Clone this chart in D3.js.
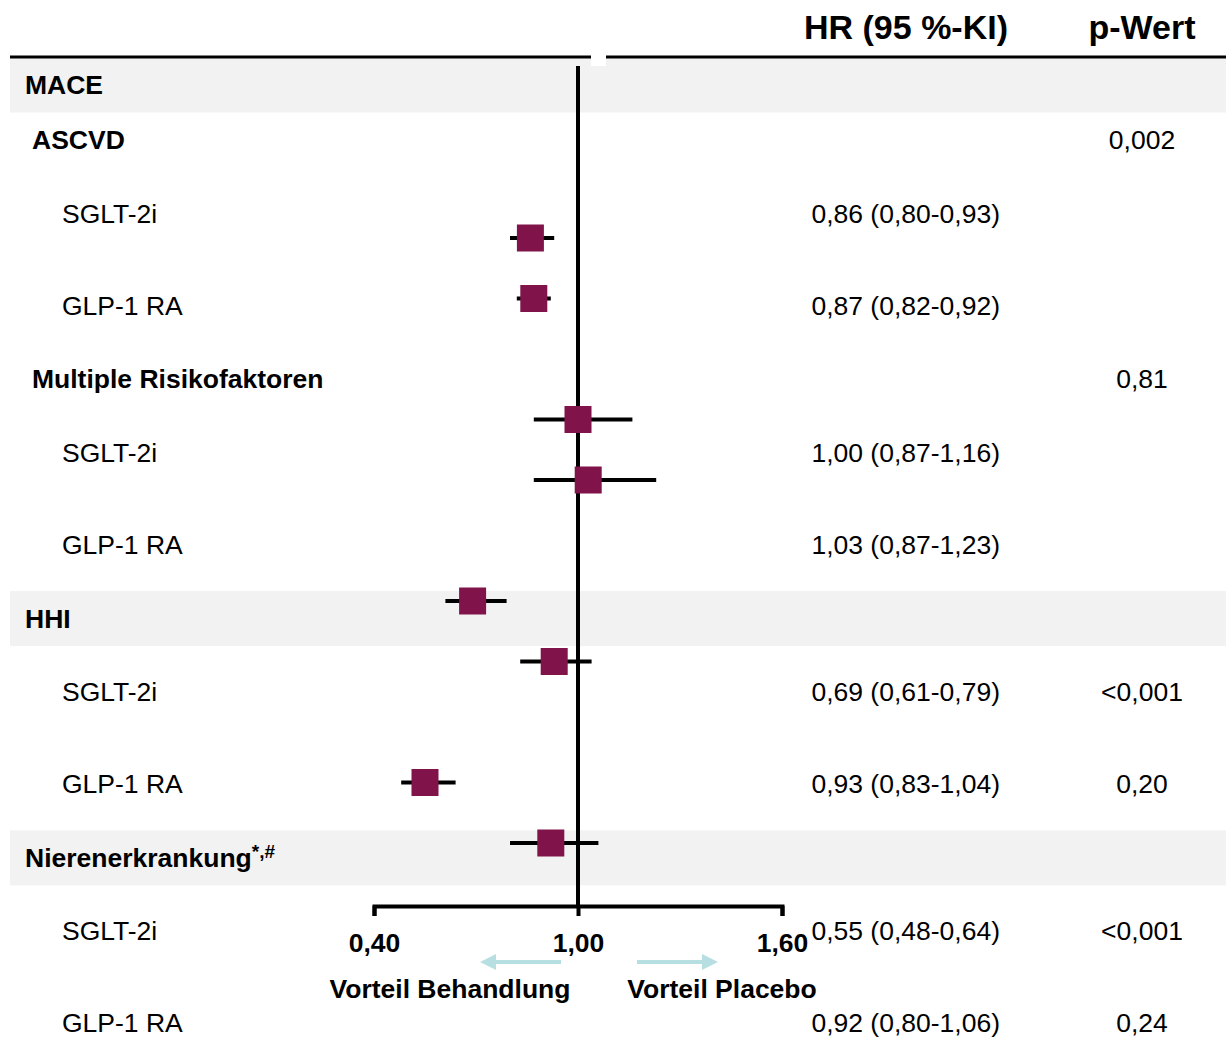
<!DOCTYPE html>
<html lang="de">
<head>
<meta charset="UTF-8">
<title>Forest plot</title>
<script src="https://d3js.org/d3.v7.min.js"></script>
<style>
  body { margin: 0; background: #fff; }
  svg text { font-family: "Liberation Sans", Arial, sans-serif; fill: #000; }
</style>
</head>
<body>
<svg id="chart" width="1226" height="1039"></svg>
<script>
// data
const sections = ["MACE", "HHI", "Nierenerkrankung"];
const subgroups = ["ASCVD", "Multiple Risikofaktoren"];
const drugs = ["SGLT-2i", "GLP-1 RA"];
const hr     = [0.86, 0.87, 1.00, 1.03, 0.69, 0.93, 0.55, 0.92];
const ciLow  = [0.80, 0.82, 0.87, 0.87, 0.61, 0.83, 0.48, 0.80];
const ciHigh = [0.93, 0.92, 1.16, 1.23, 0.79, 1.04, 0.64, 1.06];
const pSubgroup = ["0,002", "0,81"];
const pRow = ["", "", "", "", "<0,001", "0,20", "<0,001", "0,24"];
const xTicks = [0.40, 1.00, 1.60];

const svg = d3.select("#chart");
const W = 1226;
const FS = 26.5;
const de = d3.formatLocale({ decimal: ",", thousands: ".", grouping: [3], currency: ["", " €"] });
const f2 = de.format(".2f");

// build text rows (in layout units)
const rows = [];
let u = 0;
function push(type, label, extra) { rows.push(Object.assign({ type, label, u }, extra)); }
push("section", sections[0]);
subgroups.forEach((g, gi) => {
  u += gi === 0 ? 3 : 4;
  push("subgroup", g, { p: pSubgroup[gi] });
  drugs.forEach((d, di) => { u += di === 0 ? 4 : 5; push("item", d, { i: gi * 2 + di }); });
});
sections.slice(1).forEach((s, si) => {
  u += 4;
  push("section", s);
  drugs.forEach((d, di) => { u += di === 0 ? 4 : 5; push("item", d, { i: 4 + si * 2 + di }); });
});

const yRow = d3.scaleLinear().domain([0, 51]).range([85, 1023.4]);
const x = d3.scaleLinear().domain([0.4, 1.6]).range([374, 782]);
// marker slots: pairs separated by an empty slot
const yMark = d3.scaleLinear().domain([0, 10]).range([238, 843]);
const slot = i => Math.floor(i / 2) * 3 + (i % 2);

// section bands
svg.selectAll("rect.band").data(rows.filter(r => r.type === "section")).join("rect")
  .attr("class", "band")
  .attr("x", 10).attr("width", W - 10)
  .attr("y", r => yRow(r.u) - 27.5).attr("height", 55)
  .attr("fill", "#f2f2f2");

// top rule
svg.append("line").attr("x1", 10).attr("x2", W).attr("y1", 57).attr("y2", 57)
  .attr("stroke", "#000").attr("stroke-width", 3);
svg.append("rect").attr("x", 591).attr("y", 55).attr("width", 15).attr("height", 11).attr("fill", "#fff");

// headers
svg.append("text").attr("x", 906).attr("y", 39).attr("text-anchor", "middle")
  .attr("font-size", 34).attr("font-weight", "bold").text("HR (95 %-KI)");
svg.append("text").attr("x", 1142).attr("y", 39).attr("text-anchor", "middle")
  .attr("font-size", 34).attr("font-weight", "bold").text("p-Wert");

// row labels
const lab = svg.selectAll("text.lab").data(rows).join("text")
  .attr("class", "lab")
  .attr("x", r => r.type === "section" ? 25 : r.type === "subgroup" ? 32 : 62)
  .attr("y", r => yRow(r.u) + 9)
  .attr("font-size", FS)
  .attr("font-weight", r => r.type === "item" ? "normal" : "bold")
  .text(r => r.label);
lab.filter(r => r.label === "Nierenerkrankung").append("tspan")
  .attr("font-size", 19).attr("dy", -9).text("*,#");

// HR text
svg.selectAll("text.hr").data(rows.filter(r => r.type === "item")).join("text")
  .attr("class", "hr")
  .attr("x", 1000).attr("y", r => yRow(r.u) + 9)
  .attr("text-anchor", "end").attr("font-size", FS)
  .text(r => `${f2(hr[r.i])} (${f2(ciLow[r.i])}-${f2(ciHigh[r.i])})`);

// p values
svg.selectAll("text.pv").data(rows.filter(r => r.type !== "section")).join("text")
  .attr("class", "pv")
  .attr("x", 1142).attr("y", r => yRow(r.u) + 9)
  .attr("text-anchor", "middle").attr("font-size", FS)
  .text(r => r.type === "subgroup" ? r.p : pRow[r.i]);

// reference line at HR = 1
svg.append("line").attr("x1", x(1)).attr("x2", x(1)).attr("y1", 66).attr("y2", 906)
  .attr("stroke", "#000").attr("stroke-width", 4);

// axis
const axis = svg.append("g").attr("transform", "translate(0,906)")
  .call(d3.axisBottom(x).tickValues(xTicks).tickSize(10).tickPadding(17).tickFormat(f2));
axis.select(".domain").attr("stroke", "#000").attr("stroke-width", 4);
axis.selectAll(".tick line").attr("stroke", "#000").attr("stroke-width", 4);
axis.selectAll(".tick text").attr("font-size", FS).attr("font-weight", "bold")
  .attr("font-family", "Liberation Sans, Arial, sans-serif").attr("fill", "#000");

// CI lines and markers
const idx = d3.range(hr.length);
svg.selectAll("line.ci").data(idx).join("line")
  .attr("class", "ci")
  .attr("x1", i => x(ciLow[i])).attr("x2", i => x(ciHigh[i]))
  .attr("y1", i => yMark(slot(i))).attr("y2", i => yMark(slot(i)))
  .attr("stroke", "#000").attr("stroke-width", 4);
svg.selectAll("rect.mk").data(idx).join("rect")
  .attr("class", "mk")
  .attr("x", i => x(hr[i]) - 13.5).attr("y", i => yMark(slot(i)) - 13.5)
  .attr("width", 27).attr("height", 27)
  .attr("fill", "#80144a");

// direction arrows
const arrowY = 962;
const arrowCol = "#b7dfe2";
function arrow(x0, x1) {
  const dir = Math.sign(x1 - x0);
  svg.append("line").attr("x1", x0).attr("x2", x1 - dir * 14).attr("y1", arrowY).attr("y2", arrowY)
    .attr("stroke", arrowCol).attr("stroke-width", 4);
  svg.append("path")
    .attr("d", `M${x1},${arrowY} L${x1 - dir * 16},${arrowY - 8} L${x1 - dir * 16},${arrowY + 8} Z`)
    .attr("fill", arrowCol);
}
arrow(561, 480);
arrow(637, 718);

svg.append("text").attr("x", 450).attr("y", 998).attr("text-anchor", "middle")
  .attr("font-size", FS).attr("font-weight", "bold").text("Vorteil Behandlung");
svg.append("text").attr("x", 722).attr("y", 998).attr("text-anchor", "middle")
  .attr("font-size", FS).attr("font-weight", "bold").text("Vorteil Placebo");
</script>
</body>
</html>
